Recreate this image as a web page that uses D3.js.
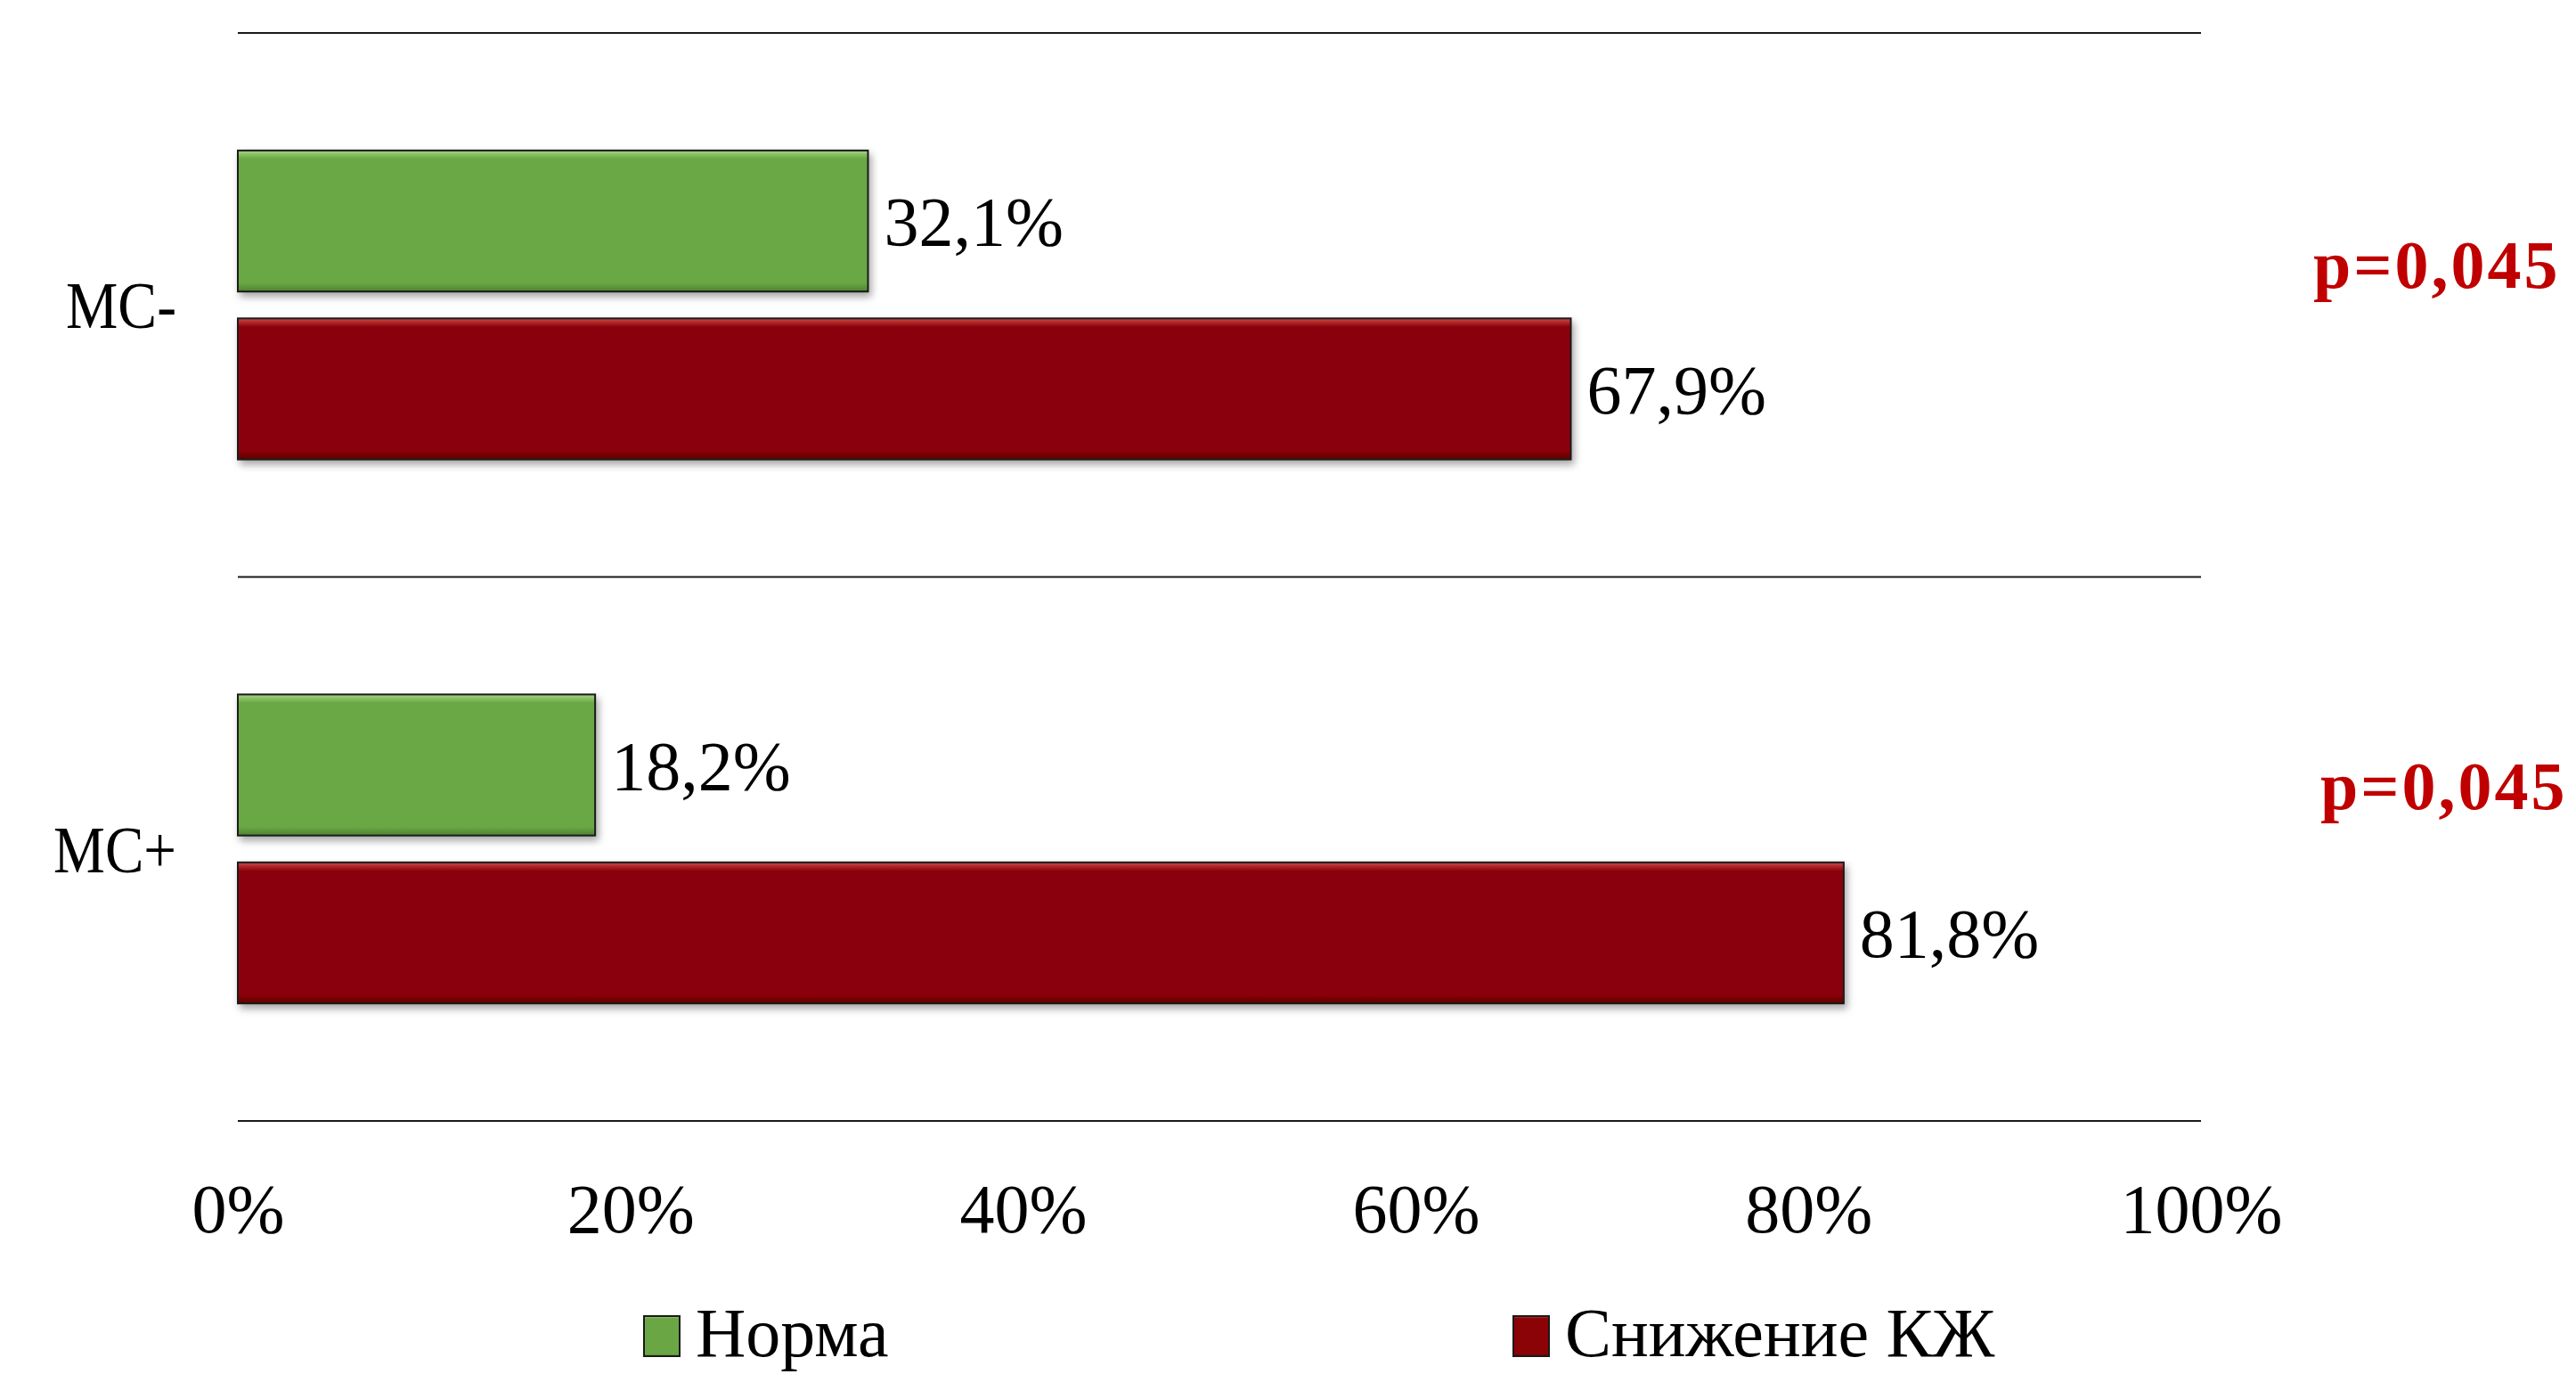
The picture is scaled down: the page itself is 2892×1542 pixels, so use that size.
<!DOCTYPE html>
<html>
<head>
<meta charset="utf-8">
<script src="https://cdn.jsdelivr.net/npm/d3@7"></script>
<style>
  html, body { margin: 0; padding: 0; background: #fff; }
  svg { display: block; }
  text { font-family: "Liberation Serif", "Times New Roman", serif; }
</style>
</head>
<body>
<div id="chart"></div>
<script>
// data
const categories = ['МС-', 'МС+'];
const seriesNames = ['Норма', 'Снижение КЖ'];
const normaValues = [32.1, 18.2];
const snizhValues = [67.9, 81.8];
const pLabels = ['p=0,045', 'p=0,045'];
const tickValues = [0, 20, 40, 60, 80, 100];

const width = 2892;
const height = 1542;
const margin = { top: 37, right: 420, bottom: 284, left: 267 };

const fills = ['#6aa744', '#8b0307'];
const lights = ['#a6d77f', '#d0474a'];
const darks = ['#4e8030', '#5e0104'];

// p-label placement (baseline offset inside each band, x start)
const pOffsetY = [286, 260];
const pX = [2597, 2605];

const svg = d3.select('#chart')
  .append('svg')
  .attr('width', width)
  .attr('height', height);

const defs = svg.append('defs');

// bevel-ish gradients for the bars
fills.forEach((c, i) => {
  const g = defs.append('linearGradient')
    .attr('id', 'grad' + i)
    .attr('x1', 0).attr('y1', 0).attr('x2', 0).attr('y2', 1);
  g.append('stop').attr('offset', '0%').attr('stop-color', lights[i]);
  g.append('stop').attr('offset', '6%').attr('stop-color', c);
  g.append('stop').attr('offset', '94%').attr('stop-color', c);
  g.append('stop').attr('offset', '100%').attr('stop-color', darks[i]);
});

const shadow = defs.append('filter')
  .attr('id', 'shadow')
  .attr('x', '-5%').attr('y', '-20%')
  .attr('width', '110%').attr('height', '150%');
shadow.append('feDropShadow')
  .attr('dx', 3).attr('dy', 5)
  .attr('stdDeviation', 4)
  .attr('flood-color', '#000')
  .attr('flood-opacity', 0.35);

const x = d3.scaleLinear()
  .domain([0, 100])
  .range([margin.left, width - margin.right - 1]);

const y = d3.scaleBand()
  .domain(categories)
  .range([margin.top, height - margin.bottom])
  .paddingInner(0)
  .paddingOuter(0);

const ySub = d3.scaleBand()
  .domain(seriesNames)
  .range([0, y.bandwidth()])
  .paddingInner(0.16)
  .paddingOuter(0.7);

// category separator lines
const sepYs = categories.map((c) => y(c)).concat([y.range()[1]]);
svg.append('g')
  .selectAll('line')
  .data(sepYs)
  .join('line')
  .attr('x1', x(0))
  .attr('x2', x(100))
  .attr('y1', (d) => d)
  .attr('y2', (d) => d)
  .attr('stroke', '#1a1a1a')
  .attr('stroke-width', 2);

const rows = [];
categories.forEach((c, i) => {
  rows.push({ cat: c, s: 0, v: normaValues[i] });
  rows.push({ cat: c, s: 1, v: snizhValues[i] });
});

// bars
svg.append('g')
  .selectAll('rect')
  .data(rows)
  .join('rect')
  .attr('x', x(0))
  .attr('y', (d) => y(d.cat) + ySub(seriesNames[d.s]))
  .attr('width', (d) => x(d.v) - x(0))
  .attr('height', ySub.bandwidth())
  .attr('fill', (d) => `url(#grad${d.s})`)
  .attr('stroke', '#1a1a1a')
  .attr('stroke-width', 2)
  .attr('filter', 'url(#shadow)');

// value labels
svg.append('g')
  .selectAll('text')
  .data(rows)
  .join('text')
  .attr('x', (d) => x(d.v) + 18)
  .attr('y', (d) => y(d.cat) + ySub(seriesNames[d.s]) + ySub.bandwidth() / 2)
  .attr('dy', '0.35em')
  .attr('font-size', 78)
  .attr('fill', '#000')
  .text((d) => d.v.toFixed(1).replace('.', ',') + '%');

// category labels
svg.append('g')
  .selectAll('text')
  .data(categories)
  .join('text')
  .attr('x', 198)
  .attr('y', (d) => y(d) + y.bandwidth() / 2)
  .attr('dy', '0.35em')
  .attr('text-anchor', 'end')
  .attr('font-size', 74)
  .attr('textLength', (d, i) => i === 0 ? 124 : 138)
  .attr('lengthAdjust', 'spacingAndGlyphs')
  .attr('fill', '#000')
  .text((d) => d);

// p-values
svg.append('g')
  .selectAll('text')
  .data(categories)
  .join('text')
  .attr('x', (d, i) => pX[i])
  .attr('y', (d, i) => y(d) + pOffsetY[i])
  .attr('font-size', 76)
  .attr('font-weight', 'bold')
  .attr('letter-spacing', 3)
  .attr('fill', '#c00000')
  .text((d, i) => pLabels[i]);

// x axis
const xAxis = d3.axisBottom(x)
  .tickValues(tickValues)
  .tickSize(0)
  .tickPadding(0)
  .tickFormat((d) => d + '%');

const axisG = svg.append('g')
  .attr('transform', `translate(0,${y.range()[1]})`)
  .call(xAxis);
axisG.select('.domain').remove();
axisG.selectAll('text')
  .attr('y', 125)
  .attr('dy', 0)
  .attr('font-size', 78)
  .attr('font-family', '"Liberation Serif", serif')
  .attr('fill', '#000');

// legend
const legendX = [723, 1699];
const legend = svg.append('g')
  .selectAll('g')
  .data(seriesNames)
  .join('g')
  .attr('transform', (d, i) => `translate(${legendX[i]},1522)`);

legend.append('rect')
  .attr('x', 0)
  .attr('y', -45)
  .attr('width', 40)
  .attr('height', 45)
  .attr('fill', (d, i) => `url(#grad${i})`)
  .attr('stroke', '#1a1a1a')
  .attr('stroke-width', 2);

legend.append('text')
  .attr('x', 58)
  .attr('y', 0)
  .attr('font-size', 78)
  .attr('fill', '#000')
  .text((d) => d);
</script>
</body>
</html>
